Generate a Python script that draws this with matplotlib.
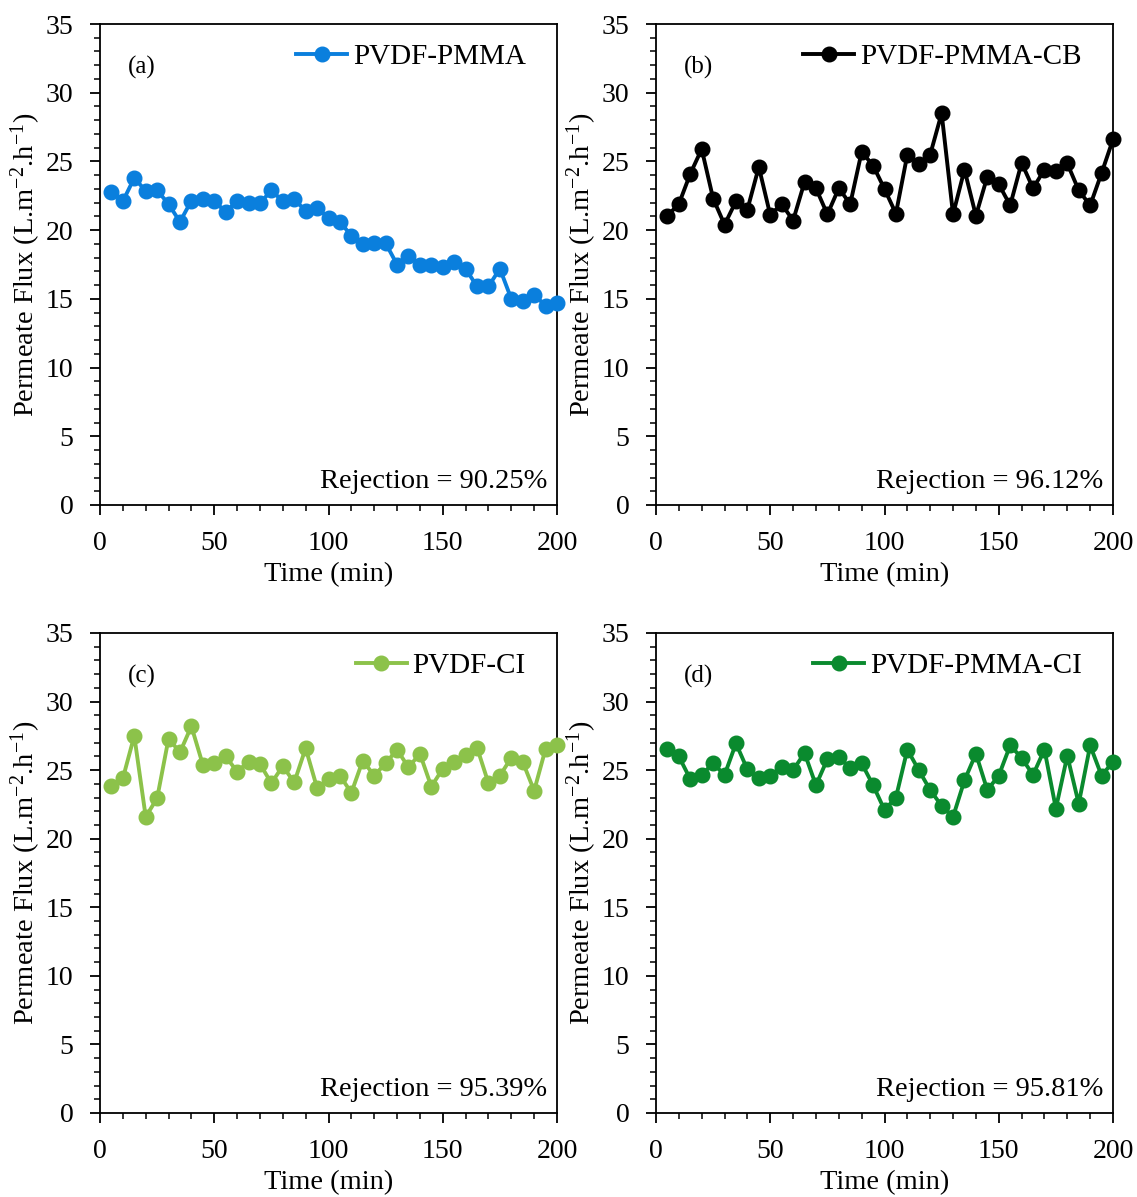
import matplotlib
matplotlib.use("Agg")
import matplotlib.pyplot as plt
from matplotlib.ticker import MultipleLocator

plt.rcParams['font.family'] = ['Liberation Serif', 'DejaVu Serif']
plt.rcParams['mathtext.fontset'] = 'custom'
plt.rcParams['mathtext.rm'] = 'Liberation Serif'
plt.rcParams['mathtext.it'] = 'Liberation Serif:italic'

time = [5, 10, 15, 20, 25, 30, 35, 40, 45, 50, 55, 60, 65, 70, 75, 80, 85, 90, 95, 100,
        105, 110, 115, 120, 125, 130, 135, 140, 145, 150, 155, 160, 165, 170, 175, 180, 185, 190, 195, 200]

pvdf_pmma = [22.8, 22.1, 23.8, 22.85, 22.9, 21.9, 20.6, 22.15, 22.3, 22.15,
             21.3, 22.15, 21.95, 21.95, 22.9, 22.1, 22.25, 21.4, 21.6, 20.9,
             20.6, 19.6, 19.0, 19.1, 19.05, 17.5, 18.1, 17.5, 17.5, 17.3,
             17.7, 17.2, 15.9, 15.9, 17.2, 15.0, 14.85, 15.3, 14.5, 14.7]

pvdf_pmma_cb = [21.05, 21.9, 24.1, 25.9, 22.3, 20.4, 22.1, 21.5, 24.6, 21.1,
                21.9, 20.7, 23.5, 23.05, 21.15, 23.05, 21.9, 25.7, 24.7, 23.0,
                21.2, 25.5, 24.8, 25.5, 28.5, 21.15, 24.4, 21.05, 23.9, 23.35,
                21.8, 24.9, 23.05, 24.4, 24.3, 24.85, 22.9, 21.8, 24.15, 26.6]

pvdf_ci = [23.85, 24.4, 27.5, 21.6, 22.95, 27.3, 26.3, 28.2, 25.4, 25.5,
           26.0, 24.9, 25.6, 25.45, 24.05, 25.3, 24.1, 26.6, 23.7, 24.35,
           24.6, 23.35, 25.7, 24.6, 25.5, 26.5, 25.2, 26.2, 23.8, 25.1,
           25.6, 26.1, 26.65, 24.05, 24.6, 25.9, 25.6, 23.5, 26.55, 26.85]

pvdf_pmma_ci = [26.55, 26.0, 24.35, 24.65, 25.5, 24.65, 26.95, 25.05, 24.4, 24.6,
                25.25, 25.0, 26.25, 23.9, 25.8, 25.95, 25.15, 25.5, 23.9, 22.1,
                23.0, 26.5, 25.0, 23.55, 22.4, 21.6, 24.25, 26.2, 23.55, 24.6,
                26.8, 25.9, 24.65, 26.5, 22.2, 26.05, 22.55, 26.8, 24.6, 25.6]

series = [pvdf_pmma, pvdf_pmma_cb, pvdf_ci, pvdf_pmma_ci]
names = ['PVDF-PMMA', 'PVDF-PMMA-CB', 'PVDF-CI', 'PVDF-PMMA-CI']
panel_labels = ['(a)', '(b)', '(c)', '(d)']
rejections = ['Rejection = 90.25%', 'Rejection = 96.12%', 'Rejection = 95.39%', 'Rejection = 95.81%']
colors = ['#0A7FDD', '#000000', '#8CC24A', '#0A8A2E']

fig = plt.figure(figsize=(11.37, 11.97), dpi=100)
W, H = 1137, 1197
boxes = [(100, 24, 557, 505), (656, 24, 1113, 505), (100, 633, 557, 1113), (656, 633, 1113, 1113)]

fs = 20
for i, (l, t, r, b) in enumerate(boxes):
    ax = fig.add_axes([l / W, 1 - b / H, (r - l) / W, (b - t) / H])
    ax.plot(time, series[i], color=colors[i], marker='o', markersize=10.5, linewidth=2.8,
            label=names[i], clip_on=False, zorder=3)
    ax.set_xlim(0, 200)
    ax.set_ylim(0, 35)
    ax.xaxis.set_major_locator(MultipleLocator(50))
    ax.xaxis.set_minor_locator(MultipleLocator(10))
    ax.yaxis.set_major_locator(MultipleLocator(5))
    ax.yaxis.set_minor_locator(MultipleLocator(1))
    ax.tick_params(which='major', direction='out', length=7, width=1.3, labelsize=fs)
    ax.tick_params(axis='x', which='major', pad=12)
    ax.tick_params(axis='y', which='major', pad=12)
    ax.tick_params(which='minor', direction='out', length=4.5, width=1.1)
    for s in ax.spines.values():
        s.set_linewidth(1.3)
    ax.set_xlabel('Time (min)', fontsize=fs + 0.5, labelpad=4)
    ax.set_ylabel(r'Permeate Flux (L.m$^{-2}$.h$^{-1}$)', fontsize=fs + 0.5, labelpad=2)
    ax.text(0.062, 0.91, panel_labels[i], transform=ax.transAxes, fontsize=fs - 2,
            ha='left', va='center')
    ax.text(0.978, 0.048, rejections[i], transform=ax.transAxes, fontsize=fs + 0.5,
            ha='right', va='center')
    ax.legend(loc='upper right', frameon=False, fontsize=fs + 1, handlelength=1.75,
              handletextpad=0.2, borderaxespad=0.2, bbox_to_anchor=(0.97, 0.995))

fig.savefig('out.png', dpi=100)
